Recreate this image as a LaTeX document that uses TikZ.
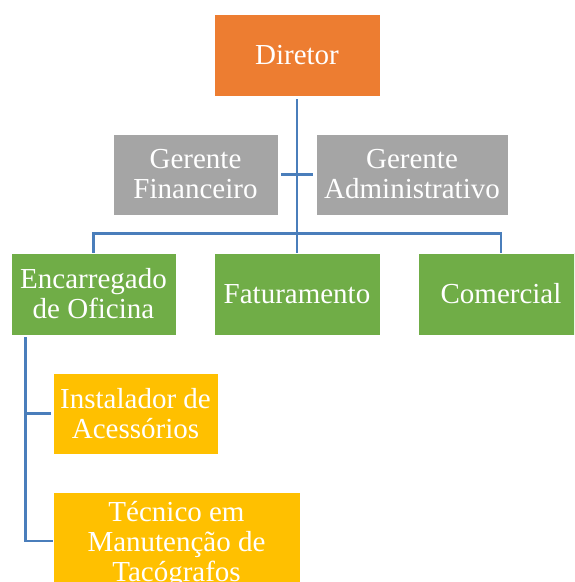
\documentclass[tikz,border=0pt]{standalone}
\usepackage{fontspec}
\setmainfont{Liberation Serif}
\definecolor{orgc}{HTML}{ED7D31}
\definecolor{grayc}{HTML}{A5A5A5}
\definecolor{greenc}{HTML}{70AD47}
\definecolor{yellowc}{HTML}{FFC000}
\definecolor{linec}{HTML}{4A7EBB}
\begin{document}
\begin{tikzpicture}[x=1pt,y=1pt,
  box/.style={draw=white, line width=0.8pt, text=white, align=center, inner sep=0pt,
    font=\fontsize{29}{30}\selectfont},
  conn/.style={draw=linec, line width=2.8pt}]
\useasboundingbox (0,0) rectangle (574,-582);
\begin{scope}
\clip (0,0) rectangle (574,-582);
\node[box, fill=orgc, minimum width=166, minimum height=82] (dir) at (297,-55) {Diretor};
\node[box, fill=grayc, minimum width=165, minimum height=81] (gf) at (195.5,-174.5) {Gerente\\Financeiro};
\node[box, fill=grayc, minimum width=192, minimum height=81] (ga) at (412,-174.5) {Gerente\\Administrativo};
\node[box, fill=greenc, minimum width=165, minimum height=82] (enc) at (93.5,-294) {Encarregado\\de Oficina};
\node[box, fill=greenc, minimum width=166, minimum height=82] (fat) at (297,-294) {Faturamento};
\node[box, fill=greenc, minimum width=166, minimum height=82] (com) at (501,-294) {Comercial};
\node[box, fill=yellowc, minimum width=165, minimum height=81] (inst) at (135.5,-413.5) {Instalador de\\Acessórios};
\node[box, fill=yellowc, minimum width=247, minimum height=106] (tec) at (176.5,-545) {Técnico em\\Manutenção de\\Tacógrafos};
\coordinate (tb) at (26,-541);
\draw[conn] ([yshift=-3pt]dir.south) -- (fat.north);
\draw[conn] ([xshift=3pt]gf.east) -- ([xshift=-3pt]ga.west);
\draw[conn] (enc.north) -- ++(0,19) -| (com.north);
\draw[conn] ([xshift=15pt,yshift=-2pt]enc.south west) |- ([xshift=-2pt]inst.west);
\draw[conn] ([xshift=15pt,yshift=-2pt]enc.south west) |- (tb) -- (tb -| tec.west);
\end{scope}
\end{tikzpicture}
\end{document}
